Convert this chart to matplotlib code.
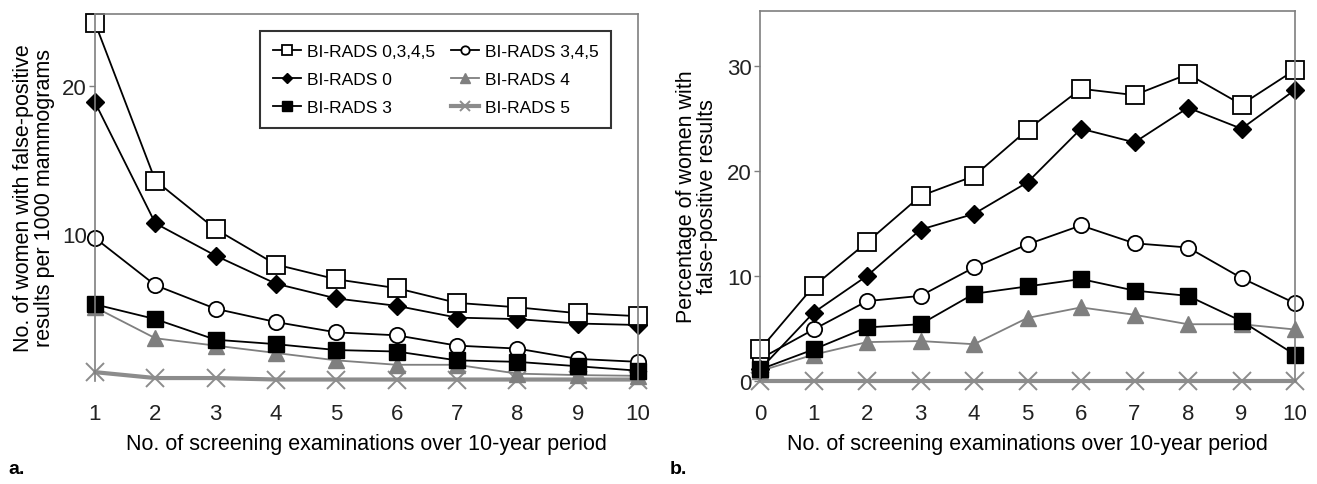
import numpy as np
import matplotlib
matplotlib.use("Agg")
import matplotlib.pyplot as plt

# panel a: per 1000 mammograms, screening exams 1..10
exams_a = [1, 2, 3, 4, 5, 6, 7, 8, 9, 10]
a_all = [24.3, 13.6, 10.3, 7.9, 6.9, 6.3, 5.3, 5.0, 4.6, 4.4]
a_br0 = [18.9, 10.7, 8.5, 6.6, 5.6, 5.1, 4.3, 4.2, 3.9, 3.8]
a_br345 = [9.7, 6.5, 4.9, 4.0, 3.3, 3.1, 2.4, 2.2, 1.5, 1.3]
a_br3 = [5.2, 4.2, 2.8, 2.5, 2.1, 2.0, 1.4, 1.3, 1.0, 0.7]
a_br4 = [5.0, 2.9, 2.4, 1.9, 1.4, 1.1, 1.1, 0.5, 0.4, 0.35]
a_br5 = [0.6, 0.2, 0.2, 0.1, 0.1, 0.1, 0.1, 0.1, 0.1, 0.1]

# panel b: percentage of women, screening exams 0..10
exams_b = [0, 1, 2, 3, 4, 5, 6, 7, 8, 9, 10]
b_all = [3.0, 9.0, 13.2, 17.6, 19.5, 23.9, 27.8, 27.2, 29.2, 26.3, 29.6]
b_br0 = [1.1, 6.5, 10.0, 14.4, 15.9, 18.9, 24.0, 22.7, 26.0, 24.0, 27.7]
b_br345 = [2.1, 4.9, 7.6, 8.1, 10.8, 13.0, 14.8, 13.1, 12.7, 9.8, 7.4]
b_br3 = [1.1, 3.0, 5.1, 5.4, 8.3, 9.0, 9.7, 8.6, 8.1, 5.7, 2.5]
b_br4 = [0.95, 2.5, 3.7, 3.8, 3.5, 6.0, 7.0, 6.3, 5.4, 5.4, 4.9]
b_br5 = [0, 0, 0, 0, 0, 0, 0, 0, 0, 0, 0]

names = ["BI-RADS 0,3,4,5", "BI-RADS 0", "BI-RADS 3",
         "BI-RADS 3,4,5", "BI-RADS 4", "BI-RADS 5"]

plt.rcParams["font.family"] = ["Liberation Sans", "DejaVu Sans"]

GRAY = "#7f7f7f"
styles = [
    dict(color="black", marker="s", mfc="white", mec="black", ms=12.5, lw=1.3, mew=1.3),
    dict(color="black", marker="D", mfc="black", mec="black", ms=9.5, lw=1.3),
    dict(color="black", marker="s", mfc="black", mec="black", ms=12, lw=1.3),
    dict(color="black", marker="o", mfc="white", mec="black", ms=11, lw=1.3, mew=1.3),
    dict(color=GRAY, marker="^", mfc=GRAY, mec=GRAY, ms=12, lw=1.3),
    dict(color="#8c8c8c", marker="x", mfc=GRAY, mec="#8c8c8c", ms=13, lw=3.0, mew=1.4),
]

fig = plt.figure(figsize=(13.17, 4.85), dpi=100)
ax_a = fig.add_axes([95 / 1317, 1 - 382 / 485, 543 / 1317, 367 / 485])
ax_b = fig.add_axes([760 / 1317, 1 - 382 / 485, 535 / 1317, 370 / 485])

series_a = [a_all, a_br0, a_br3, a_br345, a_br4, a_br5]
series_b = [b_all, b_br0, b_br3, b_br345, b_br4, b_br5]

# gray series go behind the black ones
order = [5, 4, 3, 2, 1, 0]
handles = [None] * 6
for i in order:
    h, = ax_a.plot(exams_a, series_a[i], clip_on=False, label=names[i], **styles[i])
    handles[i] = h
    ax_b.plot(exams_b, series_b[i], clip_on=False, **styles[i])

for ax in (ax_a, ax_b):
    for s in ax.spines.values():
        s.set_color(GRAY)
        s.set_linewidth(1.2)
    ax.spines["bottom"].set_visible(False)
    ax.tick_params(axis="both", labelsize=16, colors="#222222", length=4, width=1)
    ax.tick_params(axis="x", length=0, pad=16)
    ax.tick_params(axis="y", color=GRAY, pad=2)

ax_a.set_xlim(1, 10)
ax_a.set_ylim(0, 24.9)
ax_a.set_xticks(exams_a)
ax_a.set_yticks([10, 20])
ax_a.set_xlabel("No. of screening examinations over 10-year period", fontsize=15.5, labelpad=6)
ax_a.set_ylabel("No. of women with false-positive\nresults per 1000 mammograms", fontsize=15.5,
                linespacing=1.0, labelpad=5)

ax_b.set_xlim(0, 10)
ax_b.set_ylim(0, 35.2)
ax_b.set_xticks(exams_b)
ax_b.set_yticks([0, 10, 20, 30])
ax_b.set_xlabel("No. of screening examinations over 10-year period", fontsize=15.5, labelpad=6)
ax_b.set_ylabel("Percentage of women with\nfalse-positive results", fontsize=15.5,
                linespacing=1.0, labelpad=6)

leg = ax_a.legend(handles=handles, ncol=2, loc="upper right", bbox_to_anchor=(0.967, 0.978),
                  markerscale=0.55, handlelength=1.6, handletextpad=0.35,
                  columnspacing=0.9, labelspacing=0.75, borderpad=0.75, fancybox=False,
                  prop={"family": "Liberation Sans", "size": 12.5})
leg.get_frame().set_edgecolor("black")
leg.get_frame().set_linewidth(1.5)

fig.text(8 / 1317, 1 - 470 / 485, "a.", fontsize=14, fontweight="bold", va="center")
fig.text(670 / 1317, 1 - 470 / 485, "b.", fontsize=14, fontweight="bold", va="center")

fig.savefig("out.png", dpi=100)
